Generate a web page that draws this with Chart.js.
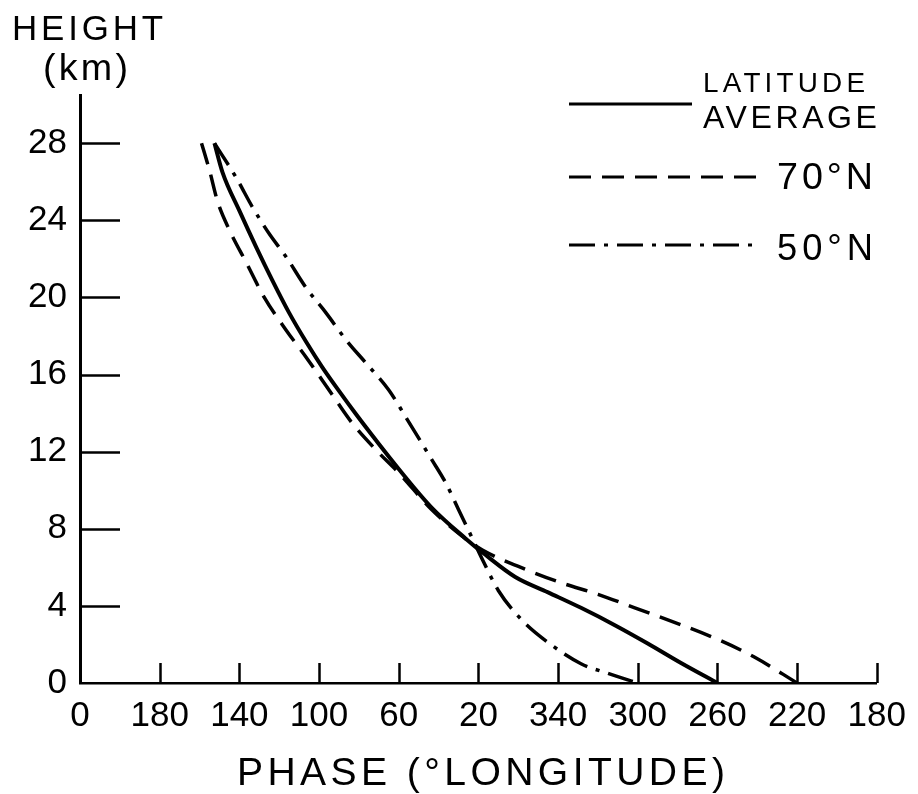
<!DOCTYPE html>
<html>
<head>
<meta charset="utf-8">
<script src="https://cdn.jsdelivr.net/npm/chart.js@4.4.1/dist/chart.umd.min.js"></script>
<style>
html,body{margin:0;padding:0;background:#fff;}
#wrap{width:918px;height:794px;position:relative;}
canvas{display:block;}
</style>
</head>
<body>
<div id="wrap"><canvas id="c" width="918" height="794"></canvas></div>
<script>
// ---- Axis ticks ----
const yTickValues = [0, 4, 8, 12, 16, 20, 24, 28];
// phase in unwrapped degrees longitude (decreasing to the right)
const xTickValues = [220, 180, 140, 100, 60, 20, -20, -60, -100, -140, -180];
const xTickLabels = ['0', '180', '140', '100', '60', '20', '340', '300', '260', '220', '180'];

// ---- Series: latitude average ----
const avgPhase  = [152.5, 148.5, 140, 131.5, 123.5, 115, 106.5, 98.5, 90, 81.5, 71.5, 60, 43.5, 26.5, 16.5, 1.5, -15, -31.5, -48.5, -65, -81.5, -100];
const avgHeight = [28, 26.5, 24.5, 22.6, 20.9, 19.2, 17.7, 16.4, 15.15, 13.95, 12.6, 11.1, 9.1, 7.5, 6.65, 5.5, 4.7, 3.9, 3.0, 2.05, 1.05, 0];

// ---- Series: 70°N ----
const n70Phase  = [159, 155, 151, 145, 136.5, 127.5, 116.5, 106.5, 95, 83.5, 71.5, 60, 43.5, 28, 18, -3.5, -21.5, -40, -58.5, -83.5, -101.5, -118.5, -140];
const n70Height = [28, 26.6, 25.0, 23.5, 21.8, 20.0, 18.3, 16.9, 15.2, 13.5, 12.1, 10.9, 9.0, 7.6, 6.9, 5.9, 5.2, 4.6, 3.9, 2.95, 2.2, 1.35, 0];

// ---- Series: 50°N ----
const n50Phase  = [152.5, 141.5, 133.5, 125, 116.5, 106.5, 96.5, 86.5, 76.5, 65, 56.5, 43.5, 36.5, 30, 23.5, 17.5, 10, -1.5, -15, -31.5, -45, -60];
const n50Height = [28, 26.2, 24.7, 23.3, 22.1, 20.5, 19.2, 17.8, 16.6, 15.2, 13.8, 11.6, 10.4, 9.0, 7.6, 6.3, 4.8, 3.3, 2.1, 1.0, 0.5, 0];

const seriesLabels = ['LATITUDE AVERAGE', '70°N', '50°N'];

function pts(px, py) { return px.map((x, i) => ({ x: x, y: py[i] })); }

const SANS = "'Liberation Sans', Arial, sans-serif";
const NARROW = "'Liberation Sans Narrow', 'Liberation Sans', sans-serif";

function drawFitted(ctx, text, left, right, capTop, capBottom, family) {
  const cap = capBottom - capTop;
  const size = cap / 0.716;
  ctx.font = size.toFixed(1) + 'px ' + family;
  ctx.letterSpacing = '0px';
  const w = ctx.measureText(text).width;
  const n = Array.from(text).length;
  const ls = n > 1 ? (right - left - w) / (n - 1) : 0;
  ctx.letterSpacing = ls.toFixed(2) + 'px';
  ctx.textAlign = 'left';
  ctx.textBaseline = 'alphabetic';
  ctx.fillStyle = '#000';
  ctx.fillText(text, left, capBottom);
  ctx.letterSpacing = '0px';
}

const decorPlugin = {
  id: 'decor',
  afterDraw(chart) {
    const ctx = chart.ctx;
    const area = chart.chartArea;
    const xs = chart.scales.x, ys = chart.scales.y;
    ctx.save();
    ctx.strokeStyle = '#000';
    ctx.lineCap = 'butt';
    // inward y ticks
    ctx.lineWidth = 2.5;
    yTickValues.forEach(v => {
      if (v === 0) return;
      const y = Math.round(ys.getPixelForValue(v)) + 0.5;
      ctx.beginPath(); ctx.moveTo(area.left, y); ctx.lineTo(area.left + 40, y); ctx.stroke();
    });
    // inward x ticks
    xTickValues.forEach((v, i) => {
      if (i === 0) return;
      const x = Math.round(xs.getPixelForValue(v)) + 0.5;
      ctx.beginPath(); ctx.moveTo(x, area.bottom); ctx.lineTo(x, area.bottom - 20); ctx.stroke();
    });
    // legend
    const legendRows = [
      { ds: 0, x0: 569, x1: 692, y: 104 },
      { ds: 1, x0: 569, x1: 760, y: 177 },
      { ds: 2, x0: 569, x1: 760, y: 245 }
    ];
    legendRows.forEach(r => {
      const d = chart.data.datasets[r.ds];
      ctx.lineWidth = Math.min(d.borderWidth, 3);
      ctx.setLineDash(d.borderDash || []);
      ctx.beginPath(); ctx.moveTo(r.x0, r.y); ctx.lineTo(r.x1, r.y); ctx.stroke();
    });
    ctx.setLineDash([]);
    const avgWords = seriesLabels[0].split(' ');
    drawFitted(ctx, avgWords[0], 703, 865, 72, 92, SANS);
    drawFitted(ctx, avgWords[1], 703, 877, 105, 128, SANS);
    drawFitted(ctx, seriesLabels[1], 777, 873, 162, 189, SANS);
    drawFitted(ctx, seriesLabels[2], 777, 873, 234, 260, SANS);
    // axis titles
    drawFitted(ctx, 'HEIGHT', 12, 163, 15, 40, SANS);
    drawFitted(ctx, '(km)', 43, 128, 53, 80, SANS);
    drawFitted(ctx, 'PHASE (°LONGITUDE)', 237, 725, 757, 785, SANS);
    ctx.restore();
  }
};

const chart = new Chart(document.getElementById('c'), {
  type: 'line',
  data: {
    datasets: [
      { label: seriesLabels[0], data: pts(avgPhase, avgHeight), borderColor: '#000', borderWidth: 4, borderDash: [], pointRadius: 0, cubicInterpolationMode: 'monotone', fill: false },
      { label: seriesLabels[1], data: pts(n70Phase, n70Height), borderColor: '#000', borderWidth: 3.5, borderDash: [22, 11], pointRadius: 0, cubicInterpolationMode: 'monotone', fill: false },
      { label: seriesLabels[2], data: pts(n50Phase, n50Height), borderColor: '#000', borderWidth: 3.5, borderDash: [26, 9, 4, 9], pointRadius: 0, cubicInterpolationMode: 'monotone', fill: false }
    ]
  },
  options: {
    responsive: false,
    animation: false,
    devicePixelRatio: 1,
    layout: { padding: { top: 95, right: 38, left: 0, bottom: 0 } },
    plugins: { legend: { display: false }, tooltip: { enabled: false }, title: { display: false } },
    scales: {
      x: {
        type: 'linear',
        reverse: true,
        min: -180,
        max: 220,
        grid: { display: false, drawTicks: false },
        border: { display: true, color: '#000', width: 2.5 },
        afterBuildTicks: s => { s.ticks = xTickValues.map(v => ({ value: v })); },
        afterFit: s => { s.height = 111; },
        ticks: {
          autoSkip: false, maxRotation: 0, padding: 12, color: '#000',
          font: { family: NARROW, size: 35 },
          callback: (v) => { const i = xTickValues.indexOf(v); return i >= 0 ? xTickLabels[i] : ''; }
        }
      },
      y: {
        type: 'linear',
        min: 0,
        max: 30.5,
        grid: { display: false, drawTicks: false },
        border: { display: true, color: '#000', width: 3 },
        afterBuildTicks: s => { s.ticks = yTickValues.map(v => ({ value: v })); },
        afterFit: s => { s.width = 80; },
        ticks: {
          autoSkip: false, padding: 13, color: '#000',
          font: { family: SANS, size: 35 },
          callback: (v) => String(v)
        }
      }
    }
  },
  plugins: [decorPlugin]
});
</script>
</body>
</html>
